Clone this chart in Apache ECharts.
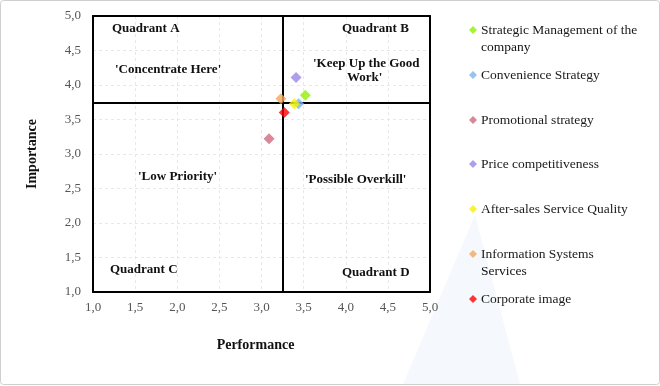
<!DOCTYPE html>
<html><head><meta charset="utf-8">
<script src="https://cdn.jsdelivr.net/npm/echarts@6/dist/echarts.min.js"></script>
<style>html,body{margin:0;padding:0;background:#fff}#c{width:660px;height:386px}</style>
</head><body><div id="c"></div>
<script>
const seriesNames = ["Strategic Management of the company","Convenience Strategy","Promotional strategy","Price competitiveness","After-sales Service Quality","Information Systems Services","Corporate image"];
const legendLines = [["Strategic Management of the","company"],["Convenience Strategy"],["Promotional strategy"],["Price competitiveness"],["After-sales Service Quality"],["Information Systems","Services"],["Corporate image"]];
const performance = [3.52, 3.44, 3.09, 3.41, 3.39, 3.23, 3.27];
const importance = [3.85, 3.73, 3.22, 4.11, 3.73, 3.80, 3.60];
const colors = ["#92f000","#7db4f0","#d06a7d","#9b87e6","#f2f200","#f2a75c","#ff0000"];
const meanPerformance = 3.25;
const meanImportance = 3.74;
const axisTicks = [1.0,1.5,2.0,2.5,3.0,3.5,4.0,4.5,5.0];

const font = "'Liberation Serif','Times New Roman',serif";
const fmt = v => v.toFixed(1).replace('.', ',');

const chart = echarts.init(document.getElementById('c'));
const series = seriesNames.map((n, i) => ({
  name: n, type: 'scatter', symbol: 'diamond', symbolSize: 11,
  itemStyle: {color: colors[i]},
  data: [[performance[i], importance[i]]],
  z: 5
}));
series.push({
  type: 'scatter', data: [], silent: true,
  markLine: {
    silent: true, symbol: 'none', label: {show: false},
    lineStyle: {color: '#000', width: 2, type: 'solid'},
    data: [{xAxis: meanPerformance}, {yAxis: meanImportance}]
  }
});

const legendTops = [31, 76, 121, 165, 210, 255, 300];
const legends = seriesNames.map((n, i) => ({
  data: [{name: n, icon: 'diamond'}], left: 469, top: legendTops[i] - 8,
  itemWidth: 8, itemHeight: 8, itemGap: 0, padding: 0,
  formatter: () => legendLines[i][0],
  textStyle: {fontFamily: font, fontSize: 13.5, color: '#1a1a1a', padding: [0,0,0,-1]},
  selectedMode: false
}));

const txt = (x, y, t, bold, size) => ({type: 'text', left: x, top: y, z: 100,
  style: {text: t, font: (bold ? 'bold ' : '') + (size || 13) + 'px ' + font, fill: '#111'}});

const graphics = [
  {type: 'polygon', shape: {points: [[475, 215], [403, 384], [520, 384]]}, style: {fill: '#f5f9fd'}, z: -10},
  {type: 'rect', shape: {x: 0.5, y: 0.5, width: 659, height: 384, r: 3}, style: {fill: 'none', stroke: '#cfcfcf', lineWidth: 1}, z: -5},
  txt(481, 40, legendLines[0][1], false, 13.5),
  txt(481, 264, legendLines[5][1], false, 13.5),
  txt(112, 22, 'Quadrant A', true),
  txt(115, 63, "'Concentrate Here'", true),
  txt(342, 22, 'Quadrant B', true),
  txt(313, 57, "'Keep Up the Good", true),
  txt(347, 71, "Work'", true),
  txt(138, 170, "'Low Priority'", true),
  txt(305, 173, "'Possible Overkill'", true),
  txt(110, 263, 'Quadrant C', true),
  txt(342, 266, 'Quadrant D', true)
];

const axisCommon = {
  type: 'value', min: 1, max: 5, interval: 0.5,
  axisLine: {show: true, lineStyle: {color: '#000', width: 2}},
  axisTick: {show: false},
  axisLabel: {formatter: v => fmt(v), fontFamily: font, fontSize: 13, color: '#555'},
  splitLine: {show: true, lineStyle: {color: '#e8e8e8', type: [3, 3], width: 1}},
  nameLocation: 'middle',
  nameTextStyle: {fontFamily: font, fontSize: 14, fontWeight: 'bold', color: '#111'}
};
const frameAxis = {
  type: 'value', min: 1, max: 5, interval: 0.5,
  axisLine: {show: true, onZero: false, lineStyle: {color: '#000', width: 2}},
  axisTick: {show: false}, axisLabel: {show: false}, splitLine: {show: false}
};

chart.setOption({
  animation: false,
  backgroundColor: '#fff',
  grid: {left: 93, right: 230, top: 16, bottom: 94},
  xAxis: [
    Object.assign({}, axisCommon, {name: 'Performance', nameGap: 46,
      nameTextStyle: Object.assign({}, axisCommon.nameTextStyle, {padding: [0, 12, 0, 0]}),
      axisLabel: Object.assign({}, axisCommon.axisLabel, {margin: 9})}),
    Object.assign({}, frameAxis, {position: 'top'})
  ],
  yAxis: [
    Object.assign({}, axisCommon, {name: 'Importance', nameGap: 54, axisLabel: Object.assign({}, axisCommon.axisLabel, {margin: 12})}),
    Object.assign({}, frameAxis, {position: 'right'})
  ],
  legend: legends,
  graphic: graphics,
  series: series
});
</script></body></html>
